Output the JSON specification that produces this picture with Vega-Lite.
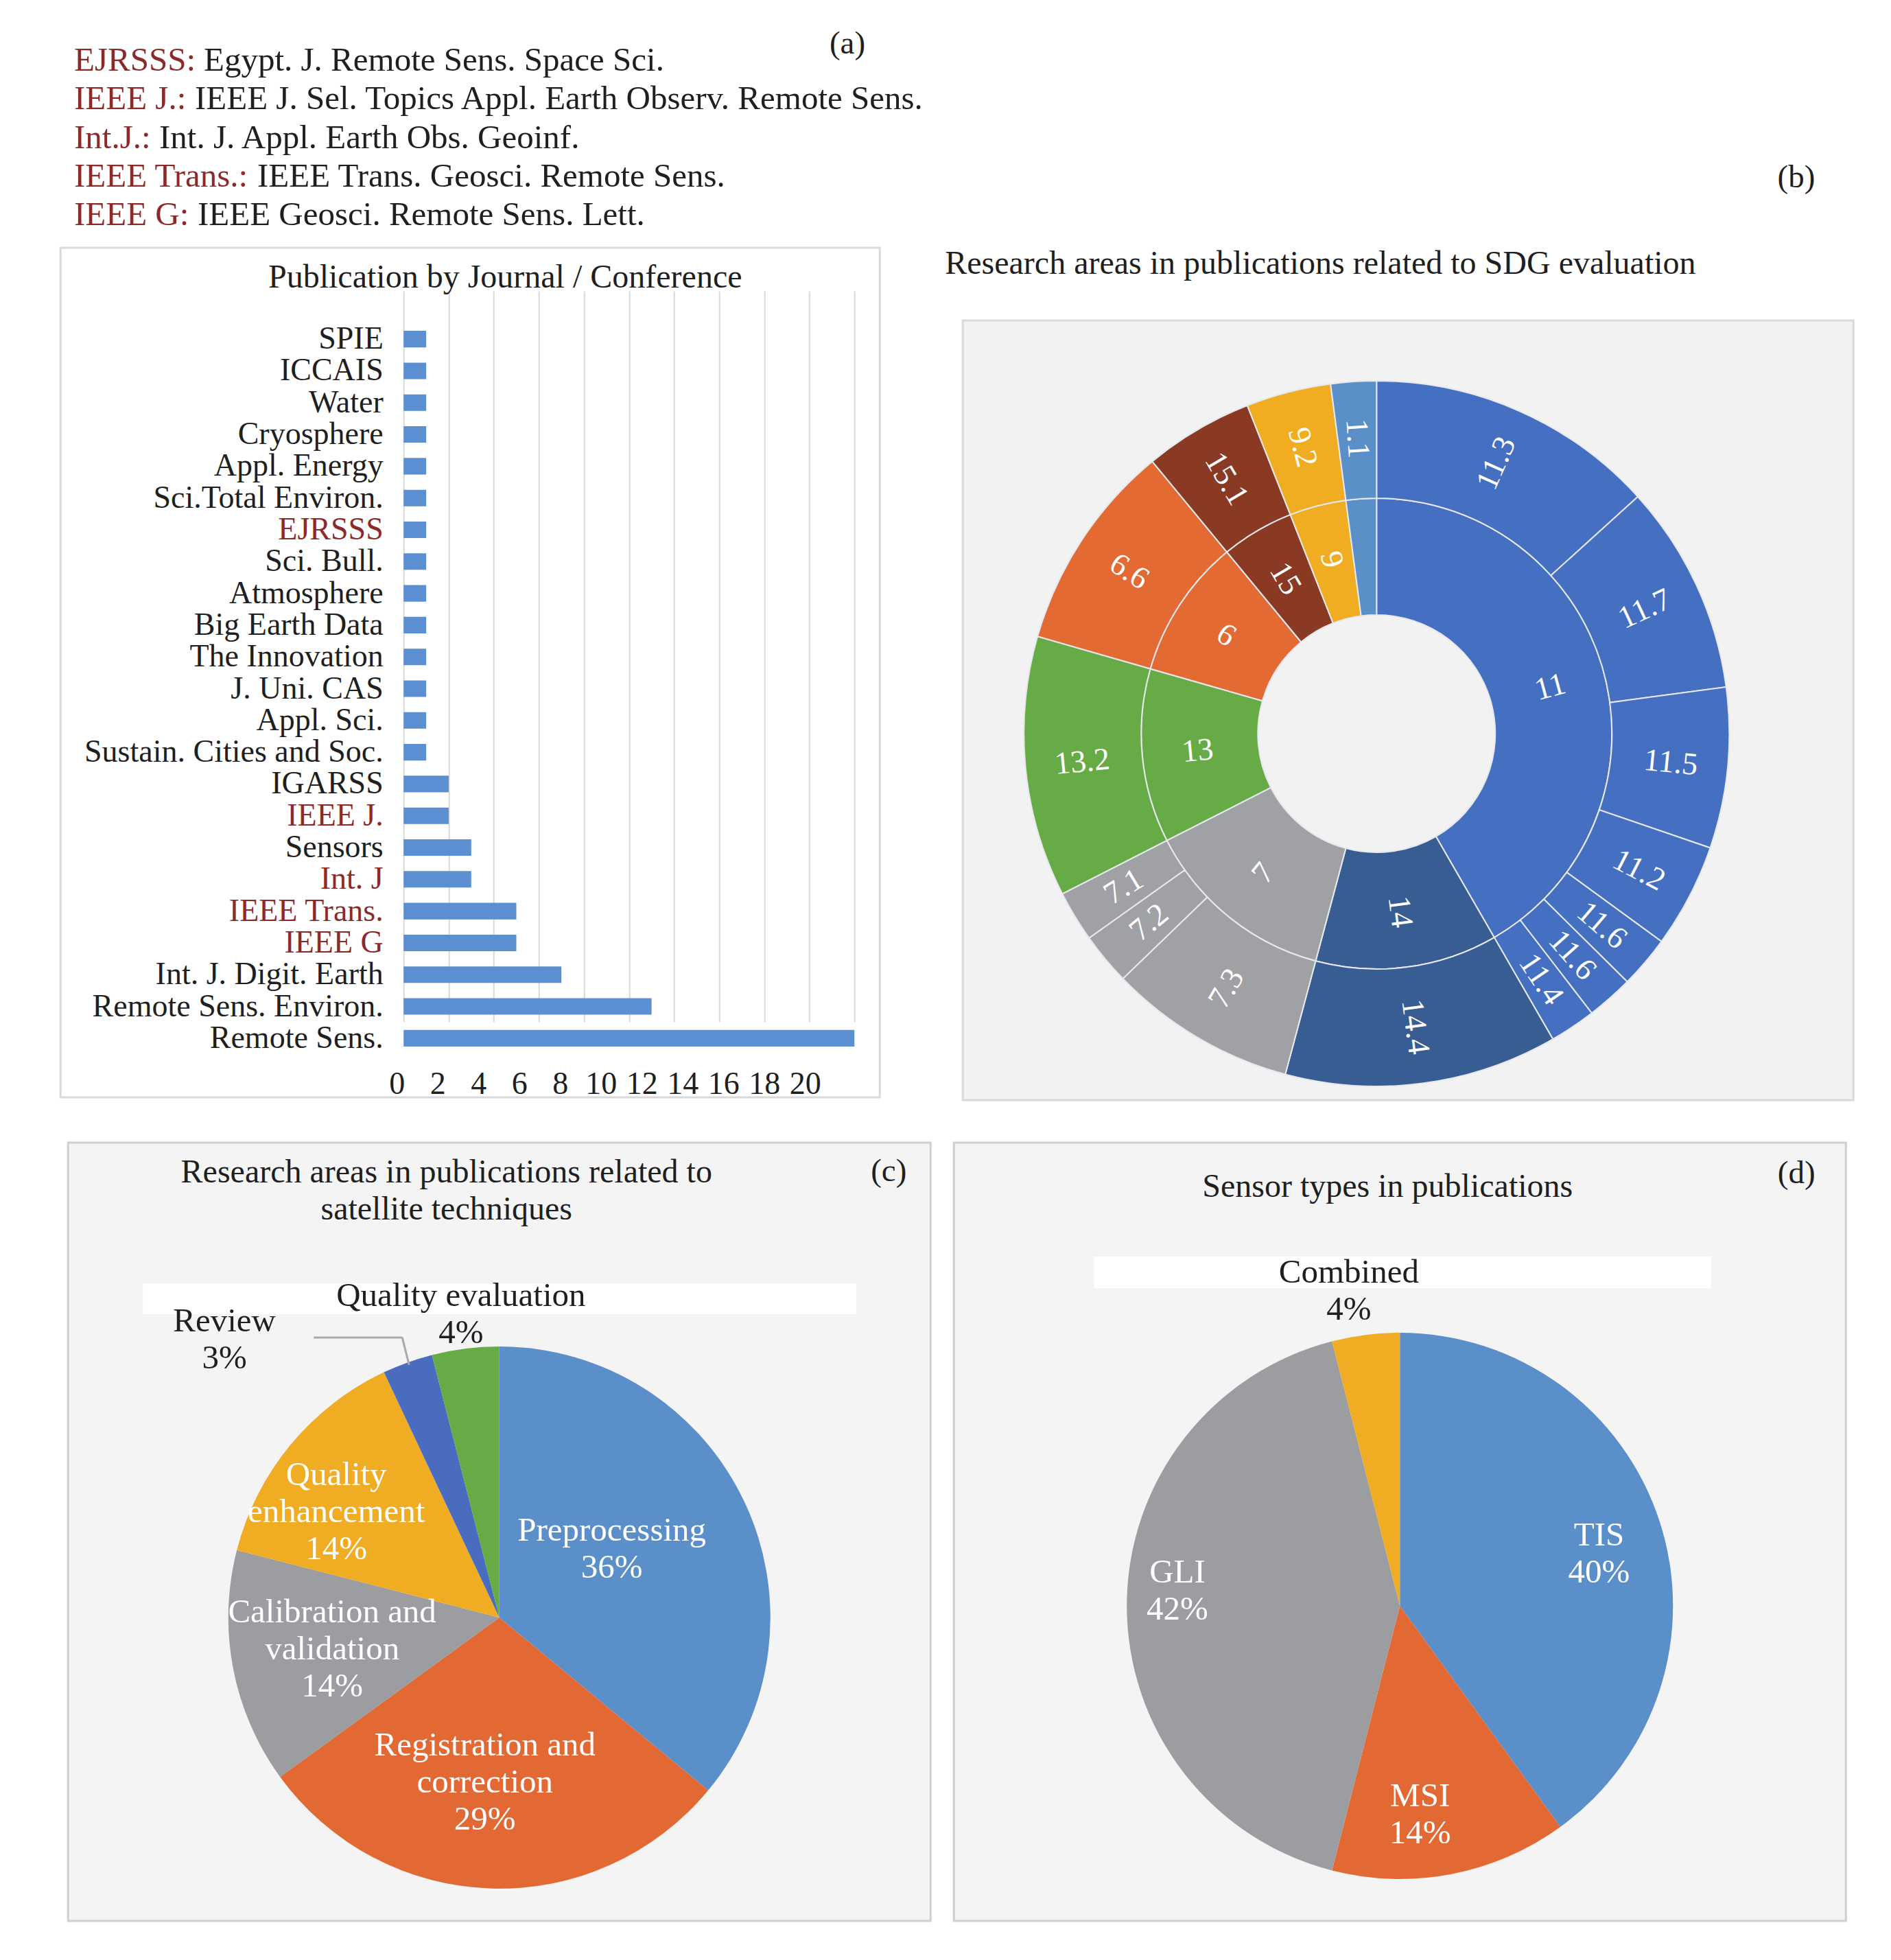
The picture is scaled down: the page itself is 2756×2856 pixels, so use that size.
{
  "$schema": "https://vega.github.io/schema/vega-lite/v6.json",
  "padding": {"left": 86, "top": 0, "right": 0, "bottom": 0},
  "background": "white",
  "config": {
    "view": {"stroke": null},
    "font": "Liberation Serif",
    "axis": {"labelFont": "Liberation Serif", "titleFont": "Liberation Serif"},
    "title": {"font": "Liberation Serif", "fontWeight": "normal", "color": "#1f1f1f"},
    "text": {"font": "Liberation Serif"}
  },
  "datasets": {
    "legend": [
      {"line": 1, "abbr": "EJRSSS:", "desc": "Egypt. J. Remote Sens. Space Sci."},
      {"line": 2, "abbr": "IEEE J.:", "desc": "IEEE J. Sel. Topics Appl. Earth Observ. Remote Sens."},
      {"line": 3, "abbr": "Int.J.:", "desc": "Int. J. Appl. Earth Obs. Geoinf."},
      {"line": 4, "abbr": "IEEE Trans.:", "desc": "IEEE Trans. Geosci. Remote Sens."},
      {"line": 5, "abbr": "IEEE G:", "desc": "IEEE Geosci. Remote Sens. Lett."}
    ],
    "journals": [
      {"journal": "SPIE", "count": 1},
      {"journal": "ICCAIS", "count": 1},
      {"journal": "Water", "count": 1},
      {"journal": "Cryosphere", "count": 1},
      {"journal": "Appl. Energy", "count": 1},
      {"journal": "Sci.Total Environ.", "count": 1},
      {"journal": "EJRSSS", "count": 1},
      {"journal": "Sci. Bull.", "count": 1},
      {"journal": "Atmosphere", "count": 1},
      {"journal": "Big Earth Data", "count": 1},
      {"journal": "The Innovation", "count": 1},
      {"journal": "J. Uni. CAS", "count": 1},
      {"journal": "Appl. Sci.", "count": 1},
      {"journal": "Sustain. Cities and Soc.", "count": 1},
      {"journal": "IGARSS", "count": 2},
      {"journal": "IEEE J.", "count": 2},
      {"journal": "Sensors", "count": 3},
      {"journal": "Int. J", "count": 3},
      {"journal": "IEEE Trans.", "count": 5},
      {"journal": "IEEE G", "count": 5},
      {"journal": "Int. J. Digit. Earth", "count": 7},
      {"journal": "Remote Sens. Environ.", "count": 11},
      {"journal": "Remote Sens.", "count": 20}
    ],
    "inner": [
      {"idx": 1, "goal": "11", "lbl": "11", "deg": 150},
      {"idx": 2, "goal": "14", "lbl": "14", "deg": 45},
      {"idx": 3, "goal": "7", "lbl": "7", "deg": 48},
      {"idx": 4, "goal": "13", "lbl": "13", "deg": 43},
      {"idx": 5, "goal": "6", "lbl": "6", "deg": 34.5},
      {"idx": 6, "goal": "15", "lbl": "15", "deg": 18},
      {"idx": 7, "goal": "9", "lbl": "9", "deg": 14},
      {"idx": 8, "goal": "1", "lbl": "", "deg": 7.5}
    ],
    "outer": [
      {"idx": 1, "goal": "11", "lbl": "11.3", "deg": 47.8},
      {"idx": 2, "goal": "11", "lbl": "11.7", "deg": 34.6},
      {"idx": 3, "goal": "11", "lbl": "11.5", "deg": 26.5},
      {"idx": 4, "goal": "11", "lbl": "11.2", "deg": 17.2},
      {"idx": 5, "goal": "11", "lbl": "11.6", "deg": 8.6},
      {"idx": 6, "goal": "11", "lbl": "11.6", "deg": 7.7},
      {"idx": 7, "goal": "11", "lbl": "11.4", "deg": 7.6},
      {"idx": 8, "goal": "14", "lbl": "14.4", "deg": 45},
      {"idx": 9, "goal": "7", "lbl": "7.3", "deg": 31},
      {"idx": 10, "goal": "7", "lbl": "7.2", "deg": 8.6},
      {"idx": 11, "goal": "7", "lbl": "7.1", "deg": 8.4},
      {"idx": 12, "goal": "13", "lbl": "13.2", "deg": 43},
      {"idx": 13, "goal": "6", "lbl": "6.6", "deg": 34.5},
      {"idx": 14, "goal": "15", "lbl": "15.1", "deg": 18},
      {"idx": 15, "goal": "9", "lbl": "9.2", "deg": 14},
      {"idx": 16, "goal": "1", "lbl": "1.1", "deg": 7.5}
    ],
    "techniques": [
      {"idx": 1, "area": "Preprocessing", "pct": 36, "caption": "Preprocessing\n36%"},
      {"idx": 2, "area": "Registration and correction", "pct": 29, "caption": "Registration and\ncorrection\n29%"},
      {"idx": 3, "area": "Calibration and validation", "pct": 14, "caption": "Calibration and\nvalidation\n14%"},
      {"idx": 4, "area": "Quality enhancement", "pct": 14, "caption": "Quality\nenhancement\n14%"},
      {"idx": 5, "area": "Review", "pct": 3, "caption": "Review\n3%"},
      {"idx": 6, "area": "Quality evaluation", "pct": 4, "caption": "Quality evaluation\n4%"}
    ],
    "sensors": [
      {"idx": 1, "sensor": "TIS", "pct": 40, "caption": "TIS\n40%"},
      {"idx": 2, "sensor": "MSI", "pct": 14, "caption": "MSI\n14%"},
      {"idx": 3, "sensor": "GLI", "pct": 42, "caption": "GLI\n42%"},
      {"idx": 4, "sensor": "Combined", "pct": 4, "caption": "Combined\n4%"}
    ]
  },
  "spacing": 0,
  "resolve": {"scale": {"color": "independent", "theta": "independent"}},
  "vconcat": [
    {
      "width": 2609,
      "height": 355,
      "layer": [
        {
          "data": {"name": "legend"},
          "mark": {"type": "text", "align": "left", "baseline": "middle", "fontSize": 49, "color": "#8c2a2a"},
          "encoding": {
            "x": {"field": "line", "type": "ordinal", "scale": {"type": "point", "padding": 0, "range": [20, 20]}, "axis": null},
            "y": {"field": "line", "type": "ordinal", "scale": {"type": "point", "padding": 0, "range": [88, 313]}, "axis": null},
            "text": {"field": "abbr"}
          }
        },
        {
          "data": {"name": "legend"},
          "mark": {"type": "text", "align": "left", "baseline": "middle", "fontSize": 49, "color": "#1f1f1f",
            "dx": {"expr": "datum.line == 1 ? 189 : datum.line == 2 ? 176 : datum.line == 3 ? 124 : datum.line == 4 ? 267 : 180"}},
          "encoding": {
            "x": {"field": "line", "type": "ordinal", "scale": {"type": "point", "padding": 0, "range": [20, 20]}, "axis": null},
            "y": {"field": "line", "type": "ordinal", "scale": {"type": "point", "padding": 0, "range": [88, 313]}, "axis": null},
            "text": {"field": "desc"}
          }
        },
        {
          "data": {"values": [{"tag": "(a)"}, {"tag": "(b)"}]},
          "mark": {"type": "text", "align": "center", "baseline": "middle", "fontSize": 47, "color": "#1f1f1f"},
          "encoding": {
            "x": {"field": "tag", "type": "nominal", "scale": {"type": "point", "padding": 0, "range": [1147, 2530]}, "axis": null},
            "y": {"field": "tag", "type": "nominal", "scale": {"type": "point", "padding": 0, "range": [64, 259]}, "axis": null},
            "text": {"field": "tag"}
          }
        }
      ],
      "resolve": {"scale": {"x": "independent", "y": "independent"}}
    },
    {
      "spacing": 58,
      "center": true,
      "resolve": {"scale": {"color": "independent", "theta": "independent"}},
      "vconcat": [
        {
          "spacing": 91,
          "resolve": {"scale": {"color": "independent", "theta": "independent"}},
          "hconcat": [
            {
              "width": 1194,
              "height": 1238,
              "view": {"fill": "white", "stroke": "#d9d9d9", "strokeWidth": 3},
              "title": {"text": "Publication by Journal / Conference", "frame": "group", "anchor": "middle", "dx": 51, "offset": -68, "fontSize": 48},
              "data": {"name": "journals"},
              "layer": [
                {
                  "mark": {"type": "bar", "color": "#5b8fd1"},
                  "encoding": {
                    "y": {
                      "field": "journal", "type": "nominal", "sort": null,
                      "scale": {"range": [110, 1175], "paddingInner": 0.48, "paddingOuter": 0.24},
                      "axis": {
                        "title": null, "ticks": false, "domain": false, "offset": -500, "labelPadding": 30,
                        "labelFontSize": 46, "labelLimit": 0, "labelOverlap": false,
                        "labelColor": {"condition": {"test": "indexof(['EJRSSS','IEEE J.','Int. J','IEEE Trans.','IEEE G'], datum.value) >= 0", "value": "#8c2a2a"}, "value": "#1f1f1f"}
                      }
                    },
                    "x": {
                      "field": "count", "type": "quantitative",
                      "scale": {"domain": [0, 20], "range": [500, 1157]},
                      "axis": {
                        "orient": "bottom", "title": null, "ticks": false, "domain": false, "labels": false, "offset": -63,
                        "values": [0, 2, 4, 6, 8, 10, 12, 14, 16, 18, 20],
                        "grid": true, "gridColor": "#d9d9d9", "gridWidth": 2
                      }
                    }
                  }
                },
                {
                  "mark": {"type": "rule", "opacity": 0},
                  "encoding": {
                    "x": {
                      "field": "count", "type": "quantitative",
                      "scale": {"domain": [0, 20], "range": [490, 1085]},
                      "axis": {
                        "orient": "bottom", "title": null, "ticks": false, "domain": false, "grid": false, "offset": -63, "labelPadding": 21,
                        "values": [0, 2, 4, 6, 8, 10, 12, 14, 16, 18, 20], "labelOverlap": false, "labelFlush": false,
                        "labelFontSize": 46, "labelColor": "#1f1f1f"
                      }
                    }
                  }
                }
              ],
              "resolve": {"scale": {"x": "independent"}}
            },
            {
              "spacing": -8,
              "resolve": {"scale": {"color": "independent", "theta": "independent"}},
              "vconcat": [
                {
                  "width": 1298,
                  "height": 1,
                  "data": {"values": [{"pad": 1}]},
                  "mark": {"type": "text", "text": ""}
                },
                {
                  "width": 1298,
                  "height": 1136,
                  "view": {"fill": "#f2f2f2", "stroke": "#d9d9d9", "strokeWidth": 3},
                  "title": {"text": "Research areas in publications related to SDG evaluation", "frame": "group", "anchor": "start", "dx": -26, "offset": 58, "fontSize": 48},
                  "layer": [
                    {
                      "data": {"name": "inner"},
                      "mark": {"type": "arc", "innerRadius": 173, "outerRadius": 343, "xOffset": -46, "yOffset": 34, "stroke": "#e6e8ee", "strokeWidth": 2},
                      "encoding": {
                        "theta": {"field": "deg", "type": "quantitative", "stack": true},
                        "order": {"field": "idx", "type": "quantitative"},
                        "color": {"field": "goal", "type": "nominal", "legend": null,
                          "scale": {"domain": ["11", "14", "7", "13", "6", "15", "9", "1"], "range": ["#4570c2", "#375d93", "#a0a1a5", "#66ab46", "#e46a33", "#8a3a22", "#f0ad22", "#5a8fc8"]}}
                      }
                    },
                    {
                      "data": {"name": "outer"},
                      "mark": {"type": "arc", "innerRadius": 343, "outerRadius": 514, "xOffset": -46, "yOffset": 34, "stroke": "#e6e8ee", "strokeWidth": 2},
                      "encoding": {
                        "theta": {"field": "deg", "type": "quantitative", "stack": true},
                        "order": {"field": "idx", "type": "quantitative"},
                        "color": {"field": "goal", "type": "nominal", "legend": null}
                      }
                    },
                    {
                      "data": {"name": "inner"},
                      "mark": {"type": "text", "radius": 262, "xOffset": -46, "yOffset": 34, "fontSize": 46, "color": "white", "align": "center", "baseline": "middle",
                        "angle": {"expr": "((datum.deg_start + datum.deg_end) / 2 - 90) > 90 ? ((datum.deg_start + datum.deg_end) / 2 - 270) : ((datum.deg_start + datum.deg_end) / 2 - 90)"}},
                      "encoding": {
                        "theta": {"field": "deg", "type": "quantitative", "stack": true},
                        "order": {"field": "idx", "type": "quantitative"},
                        "text": {"field": "lbl"}
                      }
                    },
                    {
                      "data": {"name": "outer"},
                      "mark": {"type": "text", "radius": 431, "xOffset": -46, "yOffset": 34, "fontSize": 46, "color": "white", "align": "center", "baseline": "middle",
                        "angle": {"expr": "((datum.deg_start + datum.deg_end) / 2 - 90) > 90 ? ((datum.deg_start + datum.deg_end) / 2 - 270) : ((datum.deg_start + datum.deg_end) / 2 - 90)"}},
                      "encoding": {
                        "theta": {"field": "deg", "type": "quantitative", "stack": true},
                        "order": {"field": "idx", "type": "quantitative"},
                        "text": {"field": "lbl"}
                      }
                    }
                  ]
                }
              ]
            }
          ]
        },
        {
          "spacing": 30,
          "resolve": {"scale": {"color": "independent", "theta": "independent"}},
          "hconcat": [
            {
              "width": 1257,
              "height": 1134,
              "view": {"fill": "#f4f4f4", "stroke": "#cfcfcf", "strokeWidth": 3},
              "title": {"text": ["Research areas in publications related to", "satellite techniques"], "frame": "group", "anchor": "middle", "dx": -77, "offset": -122, "fontSize": 48, "lineHeight": 54},
              "layer": [
                {
                  "data": {"values": [{"strip": "label band"}]},
                  "mark": {"type": "rect", "color": "white"},
                  "encoding": {
                    "x": {"datum": 0.0867, "type": "quantitative", "scale": {"domain": [0, 1]}, "axis": null},
                    "x2": {"datum": 0.914},
                    "y": {"datum": 0.1808, "type": "quantitative", "scale": {"domain": [0, 1], "reverse": true}, "axis": null},
                    "y2": {"datum": 0.2205}
                  }
                },
                {
                  "data": {"name": "techniques"},
                  "mark": {"type": "arc", "outerRadius": 395, "yOffset": 125},
                  "encoding": {
                    "theta": {"field": "pct", "type": "quantitative", "stack": true},
                    "order": {"field": "idx", "type": "quantitative"},
                    "color": {"field": "area", "type": "nominal", "legend": null,
                      "scale": {"domain": ["Preprocessing", "Registration and correction", "Calibration and validation", "Quality enhancement", "Review", "Quality evaluation"],
                                "range": ["#5b8fca", "#e36934", "#9c9da1", "#f0ad23", "#4a6cbf", "#66ab46"]}}
                  }
                },
                {
                  "data": {"values": [{"leader": "Review"}]},
                  "mark": {"type": "rule", "color": "#a9a9a9", "strokeWidth": 3},
                  "encoding": {
                    "x": {"datum": 0.2848, "type": "quantitative", "scale": {"domain": [0, 1]}, "axis": null},
                    "x2": {"datum": 0.3874},
                    "y": {"datum": 0.2504, "type": "quantitative", "scale": {"domain": [0, 1], "reverse": true}, "axis": null},
                    "y2": {"datum": 0.2504}
                  }
                },
                {
                  "data": {"values": [{"leader": "Review"}]},
                  "mark": {"type": "rule", "color": "#a9a9a9", "strokeWidth": 3},
                  "encoding": {
                    "x": {"datum": 0.3874, "type": "quantitative", "scale": {"domain": [0, 1]}, "axis": null},
                    "x2": {"datum": 0.3954},
                    "y": {"datum": 0.2504, "type": "quantitative", "scale": {"domain": [0, 1], "reverse": true}, "axis": null},
                    "y2": {"datum": 0.2857}
                  }
                },
                {
                  "data": {"name": "techniques"},
                  "mark": {"type": "text", "yOffset": 125, "fontSize": 49, "lineHeight": 54, "lineBreak": "\n", "align": "center", "baseline": "middle",
                    "dy": {"expr": "-(length(split(datum.caption, '\\n')) - 1) * 27"},
                    "radius": {"expr": "datum.area == 'Preprocessing' ? 192 : datum.area == 'Review' ? 570 : datum.area == 'Quality evaluation' ? 446 : datum.area == 'Quality enhancement' ? 283 : datum.area == 'Registration and correction' ? 241 : 248"},
                    "thetaOffset": {"expr": "datum.area == 'Review' ? -0.434 : datum.area == 'Preprocessing' ? -0.108 : datum.area == 'Quality enhancement' ? -0.117 : datum.area == 'Registration and correction' ? 0.056 : 0"},
                    "color": {"expr": "datum.pct < 5 ? '#1f1f1f' : 'white'"}},
                  "encoding": {
                    "theta": {"field": "pct", "type": "quantitative", "stack": true},
                    "order": {"field": "idx", "type": "quantitative"},
                    "text": {"field": "caption"}
                  }
                },
                {
                  "data": {"values": [{"tag": "(c)"}]},
                  "mark": {"type": "text", "align": "center", "baseline": "middle", "fontSize": 47, "color": "#1f1f1f"},
                  "encoding": {
                    "x": {"datum": 0.9515, "type": "quantitative", "scale": {"domain": [0, 1]}, "axis": null},
                    "y": {"datum": 0.037, "type": "quantitative", "scale": {"domain": [0, 1], "reverse": true}, "axis": null},
                    "text": {"field": "tag"}
                  }
                }
              ]
            },
            {
              "width": 1300,
              "height": 1134,
              "view": {"fill": "#f4f4f4", "stroke": "#cfcfcf", "strokeWidth": 3},
              "title": {"text": "Sensor types in publications", "frame": "group", "anchor": "middle", "dx": -18, "offset": -89, "fontSize": 48},
              "layer": [
                {
                  "data": {"values": [{"strip": "label band"}]},
                  "mark": {"type": "rect", "color": "white"},
                  "encoding": {
                    "x": {"datum": 0.157, "type": "quantitative", "scale": {"domain": [0, 1]}, "axis": null},
                    "x2": {"datum": 0.849},
                    "y": {"datum": 0.1464, "type": "quantitative", "scale": {"domain": [0, 1], "reverse": true}, "axis": null},
                    "y2": {"datum": 0.187}
                  }
                },
                {
                  "data": {"name": "sensors"},
                  "mark": {"type": "arc", "outerRadius": 398, "yOffset": 108},
                  "encoding": {
                    "theta": {"field": "pct", "type": "quantitative", "stack": true},
                    "order": {"field": "idx", "type": "quantitative"},
                    "color": {"field": "sensor", "type": "nominal", "legend": null,
                      "scale": {"domain": ["TIS", "MSI", "GLI", "Combined"], "range": ["#5b8fca", "#e36934", "#9c9da1", "#f0ad23"]}}
                  }
                },
                {
                  "data": {"name": "sensors"},
                  "mark": {"type": "text", "yOffset": 108, "fontSize": 49, "lineHeight": 54, "lineBreak": "\n", "align": "center", "baseline": "middle",
                    "dy": -27,
                    "radius": {"expr": "datum.sensor == 'Combined' ? 465 : datum.sensor == 'GLI' ? 325 : datum.sensor == 'MSI' ? 305 : 300"},
                    "thetaOffset": {"expr": "datum.sensor == 'MSI' ? 0.092 : datum.sensor == 'GLI' ? 0.068 : datum.sensor == 'TIS' ? 0.058 : -0.035"},
                    "color": {"expr": "datum.pct < 5 ? '#1f1f1f' : 'white'"}},
                  "encoding": {
                    "theta": {"field": "pct", "type": "quantitative", "stack": true},
                    "order": {"field": "idx", "type": "quantitative"},
                    "text": {"field": "caption"}
                  }
                },
                {
                  "data": {"values": [{"tag": "(d)"}]},
                  "mark": {"type": "text", "align": "center", "baseline": "middle", "fontSize": 47, "color": "#1f1f1f"},
                  "encoding": {
                    "x": {"datum": 0.9446, "type": "quantitative", "scale": {"domain": [0, 1]}, "axis": null},
                    "y": {"datum": 0.0401, "type": "quantitative", "scale": {"domain": [0, 1], "reverse": true}, "axis": null},
                    "text": {"field": "tag"}
                  }
                }
              ]
            }
          ]
        }
      ]
    }
  ]
}
